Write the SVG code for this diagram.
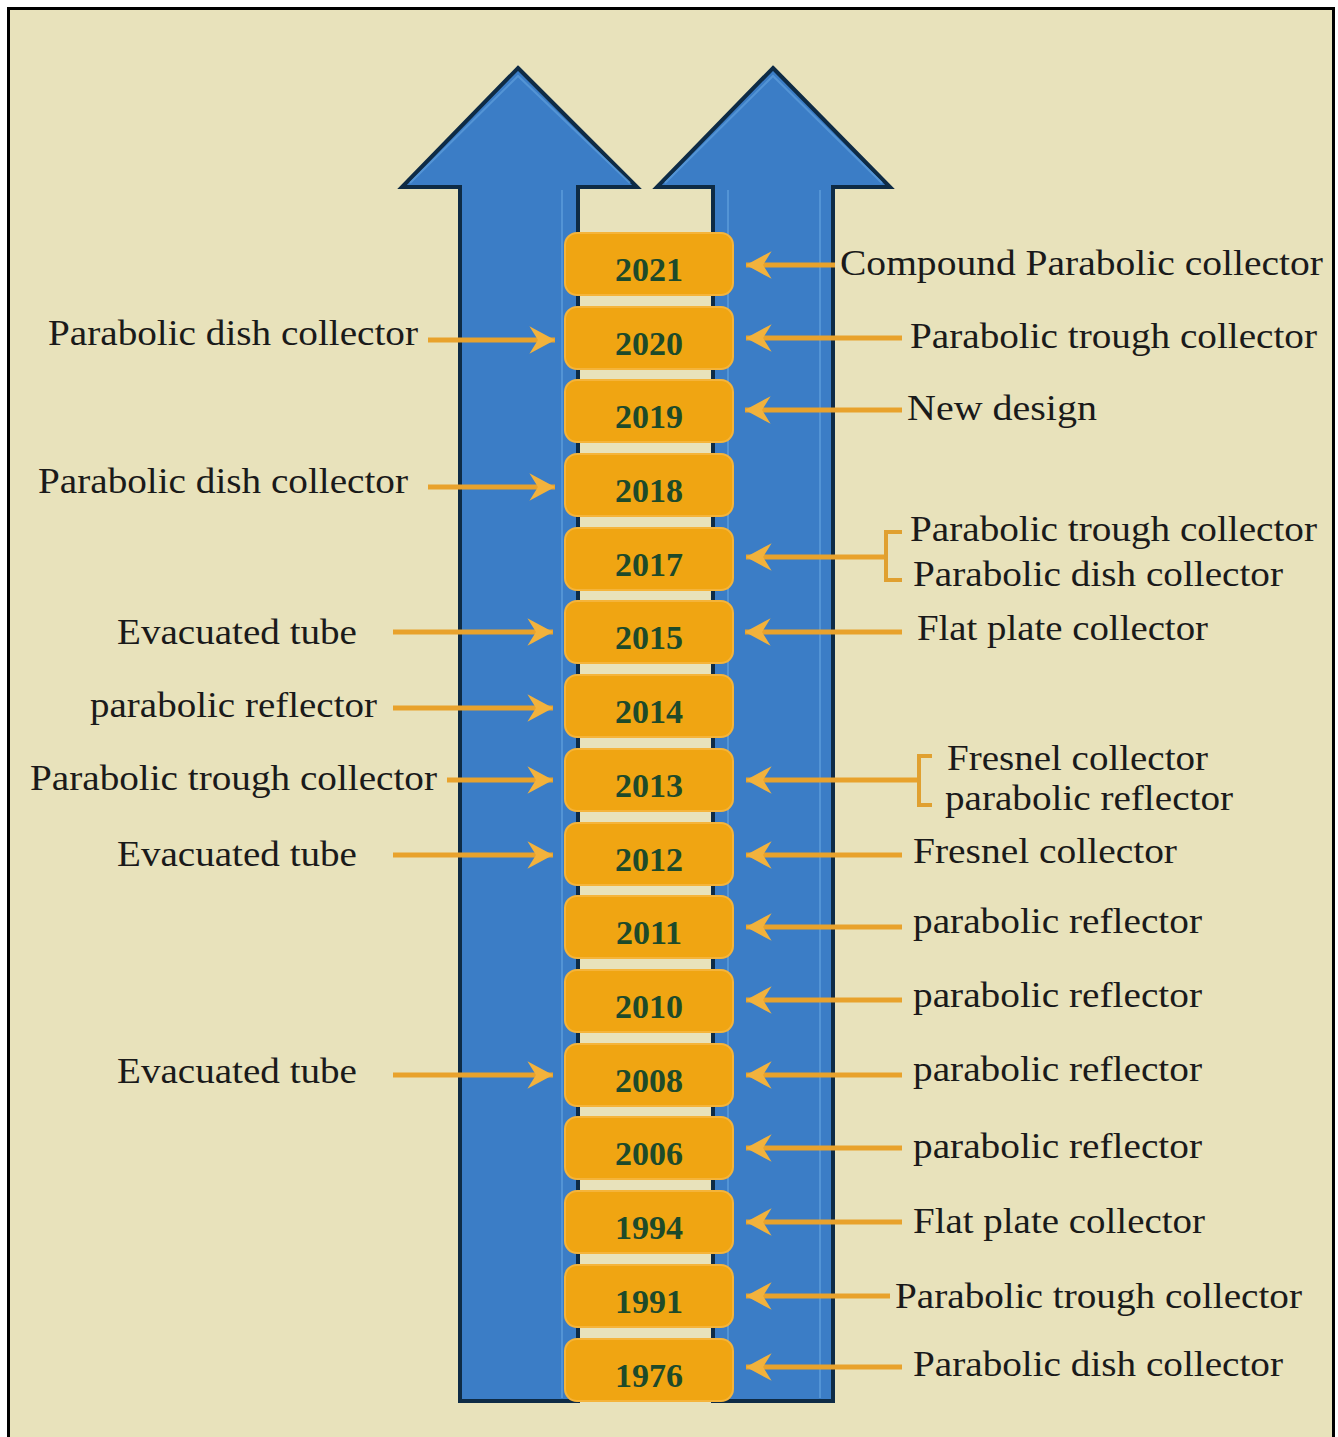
<svg xmlns="http://www.w3.org/2000/svg" width="1338" height="1437" viewBox="0 0 1338 1437">
<defs>
<style>
.lbl{font-family:"Liberation Serif","DejaVu Serif",serif;font-size:35px;fill:#1a1a1a;}
.yr{font-family:"Liberation Serif","DejaVu Serif",serif;font-size:34px;font-weight:bold;fill:#1d4a2a;text-anchor:middle;}
.box{fill:#f0a512;stroke:#f5b43a;stroke-width:2;}
.con{stroke:#e8a22c;stroke-width:5;fill:none;}
.brk{stroke:#e0a030;stroke-width:4;fill:none;}
.shaft{fill:#3b7dc6;stroke:#0e2b45;stroke-width:4;stroke-linejoin:miter;}
.hl{stroke:#5a9ad8;stroke-width:2;fill:none;opacity:0.8;}
</style>
<marker id="ah" viewBox="0 0 30 30" refX="28" refY="15" markerWidth="32" markerHeight="32" markerUnits="userSpaceOnUse" orient="auto">
<path d="M4,2 L28,15 L4,28 L12,15 Z" fill="#f2b23c"/>
</marker>
</defs>
<rect x="0" y="0" width="1338" height="1437" fill="#ffffff"/>
<rect x="8.5" y="8.5" width="1325" height="1440" fill="#e8e2bb" stroke="#000" stroke-width="3"/>

<g id="big-arrows">
<polygon class="shaft" points="518,68 637,187 578,187 578,1401 460,1401 460,187 402,187"/>
<polygon class="shaft" points="773,68 890,187 833,187 833,1401 713,1401 713,187 657,187"/>
<line class="hl" x1="562" y1="190" x2="562" y2="1398"/>
<line class="hl" x1="728" y1="190" x2="728" y2="1398"/>
<line class="hl" x1="820" y1="190" x2="820" y2="1398"/>
<polyline class="hl" points="410,183 518,76 630,183"/>
<polyline class="hl" points="665,183 773,76 882,183"/>
</g>

<g id="years">
<g id="y2021"><rect class="box" x="565" y="233" width="168" height="62" rx="12"/><text class="yr" x="649" y="281">2021</text></g>
<g id="y2020"><rect class="box" x="565" y="307" width="168" height="62" rx="12"/><text class="yr" x="649" y="355">2020</text></g>
<g id="y2019"><rect class="box" x="565" y="380" width="168" height="62" rx="12"/><text class="yr" x="649" y="428">2019</text></g>
<g id="y2018"><rect class="box" x="565" y="454" width="168" height="62" rx="12"/><text class="yr" x="649" y="502">2018</text></g>
<g id="y2017"><rect class="box" x="565" y="528" width="168" height="62" rx="12"/><text class="yr" x="649" y="576">2017</text></g>
<g id="y2015"><rect class="box" x="565" y="601" width="168" height="62" rx="12"/><text class="yr" x="649" y="649">2015</text></g>
<g id="y2014"><rect class="box" x="565" y="675" width="168" height="62" rx="12"/><text class="yr" x="649" y="723">2014</text></g>
<g id="y2013"><rect class="box" x="565" y="749" width="168" height="62" rx="12"/><text class="yr" x="649" y="797">2013</text></g>
<g id="y2012"><rect class="box" x="565" y="823" width="168" height="62" rx="12"/><text class="yr" x="649" y="871">2012</text></g>
<g id="y2011"><rect class="box" x="565" y="896" width="168" height="62" rx="12"/><text class="yr" x="649" y="944">2011</text></g>
<g id="y2010"><rect class="box" x="565" y="970" width="168" height="62" rx="12"/><text class="yr" x="649" y="1018">2010</text></g>
<g id="y2008"><rect class="box" x="565" y="1044" width="168" height="62" rx="12"/><text class="yr" x="649" y="1092">2008</text></g>
<g id="y2006"><rect class="box" x="565" y="1117" width="168" height="62" rx="12"/><text class="yr" x="649" y="1165">2006</text></g>
<g id="y1994"><rect class="box" x="565" y="1191" width="168" height="62" rx="12"/><text class="yr" x="649" y="1239">1994</text></g>
<g id="y1991"><rect class="box" x="565" y="1265" width="168" height="62" rx="12"/><text class="yr" x="649" y="1313">1991</text></g>
<g id="y1976"><rect class="box" x="565" y="1339" width="168" height="62" rx="12"/><text class="yr" x="649" y="1387">1976</text></g>
</g>

<g id="connectors">
<line class="con" x1="428" y1="340" x2="555" y2="340" marker-end="url(#ah)"/>
<line class="con" x1="428" y1="487" x2="555" y2="487" marker-end="url(#ah)"/>
<line class="con" x1="393" y1="632" x2="553" y2="632" marker-end="url(#ah)"/>
<line class="con" x1="393" y1="708" x2="553" y2="708" marker-end="url(#ah)"/>
<line class="con" x1="447" y1="780" x2="553" y2="780" marker-end="url(#ah)"/>
<line class="con" x1="393" y1="855" x2="553" y2="855" marker-end="url(#ah)"/>
<line class="con" x1="393" y1="1075" x2="553" y2="1075" marker-end="url(#ah)"/>

<line class="con" x1="835" y1="265" x2="746" y2="265" marker-end="url(#ah)"/>
<line class="con" x1="902" y1="338" x2="746" y2="338" marker-end="url(#ah)"/>
<line class="con" x1="902" y1="410" x2="745" y2="410" marker-end="url(#ah)"/>
<line class="con" x1="885" y1="557" x2="746" y2="557" marker-end="url(#ah)"/>
<polyline class="brk" points="902,532 886,532 886,580 902,580"/>
<line class="con" x1="902" y1="632" x2="745" y2="632" marker-end="url(#ah)"/>
<line class="con" x1="918" y1="780" x2="746" y2="780" marker-end="url(#ah)"/>
<polyline class="brk" points="932,756 919,756 919,805 932,805"/>
<line class="con" x1="902" y1="855" x2="746" y2="855" marker-end="url(#ah)"/>
<line class="con" x1="902" y1="927" x2="746" y2="927" marker-end="url(#ah)"/>
<line class="con" x1="902" y1="1000" x2="746" y2="1000" marker-end="url(#ah)"/>
<line class="con" x1="902" y1="1075" x2="746" y2="1075" marker-end="url(#ah)"/>
<line class="con" x1="902" y1="1148" x2="746" y2="1148" marker-end="url(#ah)"/>
<line class="con" x1="902" y1="1222" x2="746" y2="1222" marker-end="url(#ah)"/>
<line class="con" x1="890" y1="1296" x2="746" y2="1296" marker-end="url(#ah)"/>
<line class="con" x1="902" y1="1367" x2="746" y2="1367" marker-end="url(#ah)"/>
</g>

<g id="left-labels">
<text class="lbl" x="48" y="345" textLength="370" lengthAdjust="spacingAndGlyphs">Parabolic dish collector</text>
<text class="lbl" x="38" y="493" textLength="370" lengthAdjust="spacingAndGlyphs">Parabolic dish collector</text>
<text class="lbl" x="117" y="644" textLength="240" lengthAdjust="spacingAndGlyphs">Evacuated tube</text>
<text class="lbl" x="90" y="717" textLength="287" lengthAdjust="spacingAndGlyphs">parabolic reflector</text>
<text class="lbl" x="30" y="790" textLength="407" lengthAdjust="spacingAndGlyphs">Parabolic trough collector</text>
<text class="lbl" x="117" y="866" textLength="240" lengthAdjust="spacingAndGlyphs">Evacuated tube</text>
<text class="lbl" x="117" y="1083" textLength="240" lengthAdjust="spacingAndGlyphs">Evacuated tube</text>
</g>

<g id="right-labels">
<text class="lbl" x="840" y="275" textLength="483" lengthAdjust="spacingAndGlyphs">Compound Parabolic collector</text>
<text class="lbl" x="910" y="348" textLength="407" lengthAdjust="spacingAndGlyphs">Parabolic trough collector</text>
<text class="lbl" x="907" y="420" textLength="190" lengthAdjust="spacingAndGlyphs">New design</text>
<text class="lbl" x="910" y="541" textLength="407" lengthAdjust="spacingAndGlyphs">Parabolic trough collector</text>
<text class="lbl" x="913" y="586" textLength="370" lengthAdjust="spacingAndGlyphs">Parabolic dish collector</text>
<text class="lbl" x="917" y="640" textLength="291" lengthAdjust="spacingAndGlyphs">Flat plate collector</text>
<text class="lbl" x="947" y="770" textLength="261" lengthAdjust="spacingAndGlyphs">Fresnel collector</text>
<text class="lbl" x="945" y="810" textLength="288" lengthAdjust="spacingAndGlyphs">parabolic reflector</text>
<text class="lbl" x="913" y="863" textLength="264" lengthAdjust="spacingAndGlyphs">Fresnel collector</text>
<text class="lbl" x="913" y="933" textLength="289" lengthAdjust="spacingAndGlyphs">parabolic reflector</text>
<text class="lbl" x="913" y="1007" textLength="289" lengthAdjust="spacingAndGlyphs">parabolic reflector</text>
<text class="lbl" x="913" y="1081" textLength="289" lengthAdjust="spacingAndGlyphs">parabolic reflector</text>
<text class="lbl" x="913" y="1158" textLength="289" lengthAdjust="spacingAndGlyphs">parabolic reflector</text>
<text class="lbl" x="913" y="1233" textLength="292" lengthAdjust="spacingAndGlyphs">Flat plate collector</text>
<text class="lbl" x="895" y="1308" textLength="407" lengthAdjust="spacingAndGlyphs">Parabolic trough collector</text>
<text class="lbl" x="913" y="1376" textLength="370" lengthAdjust="spacingAndGlyphs">Parabolic dish collector</text>
</g>
</svg>
